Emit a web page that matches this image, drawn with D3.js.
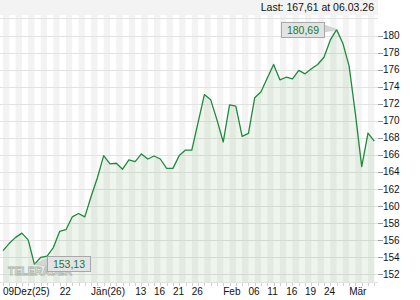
<!DOCTYPE html>
<html>
<head>
<meta charset="utf-8">
<script src="https://cdn.jsdelivr.net/npm/d3@7"></script>
<style>
  body { margin: 0; background: #fff; }
  svg { display: block; font-family: "Liberation Sans", Arial, sans-serif; }
</style>
</head>
<body>
<script>
// closing prices, one per trading day (09.12.25 .. 06.03.26)
var prices = [
  154.74, 155.6, 156.3, 156.8, 156.0, 153.13, 153.96, 154.1, 155.1, 157.0,
  157.2, 158.7, 159.1, 158.7, 161.1, 163.3, 165.9, 164.94, 165.0, 164.3,
  165.4, 165.2, 166.1, 165.5, 165.85, 165.5, 164.4, 164.4, 165.9, 166.55,
  166.55, 169.8, 173.06, 172.47, 170.1, 167.5, 171.85, 171.7, 168.15, 168.5,
  172.7, 173.4, 175.0, 176.6, 174.8, 175.1, 174.9, 175.9, 175.5, 176.1,
  176.6, 177.45, 179.45, 180.69, 179.1, 176.4, 170.8, 164.6, 168.55, 167.61
];

// x axis labels and the day index they sit on
var xLabels = ["09Dez(25)", "22", "Jän(26)", "13", "16", "21", "26", "Feb", "06", "11", "16", "19", "24", "Mär"];
var xLabelIdx = [0, 9, 14, 21, 24, 27, 30, 35, 39, 42, 45, 48, 51, 55];

var yTicks = [152, 154, 156, 158, 160, 162, 164, 166, 168, 170, 172, 174, 176, 178, 180];
var yGrid = yTicks.concat([182]);

var lastText = "Last: 167,61 at 06.03.26";
var maxText = "180,69";
var minText = "153,13";

var width = 420, height = 300;
var plotLeft = 0, plotRight = 378, plotTop = 15, plotBottom = 282;

var svg = d3.select("body").append("svg")
  .attr("width", width)
  .attr("height", height);

var x = d3.scaleLinear()
  .domain([0, prices.length - 1])
  .range([3, 374.3]);

var y = d3.scaleLinear()
  .domain([152, 180])
  .range([274, 35.5]);

// header strip
svg.append("rect")
  .attr("x", 0).attr("y", 0)
  .attr("width", plotRight).attr("height", plotTop)
  .attr("fill", "#f3f3f3");

svg.append("text")
  .attr("x", 374).attr("y", 11)
  .attr("text-anchor", "end")
  .attr("font-size", "10.5px")
  .attr("fill", "#111")
  .text(lastText);

// vertical stripes, one grey band every two days
var stripeIdx = d3.range(0, prices.length - 1, 2);
svg.append("g").selectAll("rect")
  .data(stripeIdx)
  .enter().append("rect")
  .attr("x", function (d) { return x(d); })
  .attr("y", plotTop)
  .attr("width", function (d) { return x(d + 1) - x(d); })
  .attr("height", plotBottom - plotTop)
  .attr("fill", "#f3f3f3");

// horizontal grid
svg.append("g").selectAll("line")
  .data(yGrid)
  .enter().append("line")
  .attr("x1", plotLeft).attr("x2", plotRight)
  .attr("y1", function (d) { return Math.round(y(d)) + 0.5; })
  .attr("y2", function (d) { return Math.round(y(d)) + 0.5; })
  .attr("stroke", "#e2e2e2");

svg.append("line")
  .attr("x1", plotLeft).attr("x2", plotRight)
  .attr("y1", plotBottom + 0.5).attr("y2", plotBottom + 0.5)
  .attr("stroke", "#e2e2e2");

// watermark
svg.append("text")
  .attr("x", 8).attr("y", 275)
  .attr("font-size", "11.5px")
  .attr("font-weight", "bold")
  .attr("textLength", 64)
  .attr("lengthAdjust", "spacingAndGlyphs")
  .attr("fill", "#fff")
  .attr("stroke", "#b8b8b8")
  .attr("stroke-width", 0.8)
  .text("TELERADER");

// area + line
var area = d3.area()
  .x(function (d, i) { return x(i); })
  .y0(plotBottom)
  .y1(function (d) { return y(d); });

svg.append("path")
  .datum(prices)
  .attr("d", area)
  .attr("fill", "rgba(70,140,60,0.09)");

var line = d3.line()
  .x(function (d, i) { return x(i); })
  .y(function (d) { return y(d); });

svg.append("path")
  .datum(prices)
  .attr("d", line)
  .attr("fill", "none")
  .attr("stroke", "#1f8a3c")
  .attr("stroke-width", 1.3)
  .attr("stroke-linejoin", "round");

// y axis ticks + labels
var yAxis = svg.append("g");
yAxis.selectAll("line")
  .data(yTicks)
  .enter().append("line")
  .attr("x1", plotRight).attr("x2", plotRight + 5)
  .attr("y1", function (d) { return Math.round(y(d)) + 0.5; })
  .attr("y2", function (d) { return Math.round(y(d)) + 0.5; })
  .attr("stroke", "#9a9a9a");
yAxis.selectAll("text")
  .data(yTicks)
  .enter().append("text")
  .attr("x", 383)
  .attr("y", function (d) { return y(d) + 3.7; })
  .attr("font-size", "10px")
  .attr("fill", "#111")
  .text(function (d) { return d; });

// x axis ticks (every day) + labels
svg.append("g").selectAll("line")
  .data(d3.range(prices.length))
  .enter().append("line")
  .attr("x1", function (d) { return Math.round(x(d)) + 0.5; })
  .attr("x2", function (d) { return Math.round(x(d)) + 0.5; })
  .attr("y1", plotBottom + 1).attr("y2", plotBottom + 4)
  .attr("stroke", "#d0d0d0");

svg.append("g").selectAll("text")
  .data(xLabels)
  .enter().append("text")
  .attr("x", function (d, i) { return x(xLabelIdx[i]); })
  .attr("y", 295)
  .attr("font-size", "10px")
  .attr("fill", "#111")
  .text(function (d) { return d; });

// max / min callouts
function callout(idx, text, bx, by, bw, bh, side) {
  var px = x(idx), py = y(prices[idx]);
  var g = svg.append("g");
  var ex = side === "left" ? bx + bw : bx;
  g.append("polygon")
    .attr("points", [[ex, by + 3], [px, py], [ex, by + bh - 5]].join(" "))
    .attr("fill", "#d6d6d6")
    .attr("stroke", "#bdbdbd")
    .attr("stroke-width", 0.6);
  g.append("rect")
    .attr("x", bx + 0.5).attr("y", by + 0.5)
    .attr("width", bw).attr("height", bh)
    .attr("fill", "#e3e3e3")
    .attr("stroke", "#a8a8a8");
  g.append("text")
    .attr("x", bx + bw / 2 + 0.5).attr("y", by + bh / 2 + 4.2)
    .attr("text-anchor", "middle")
    .attr("font-size", "10.5px")
    .attr("fill", "#1a7a32")
    .text(text);
}
callout(prices.indexOf(d3.max(prices)), maxText, 281, 22, 43, 15, "left");
callout(prices.indexOf(d3.min(prices)), minText, 47, 256, 43, 15, "right");
</script>
</body>
</html>
